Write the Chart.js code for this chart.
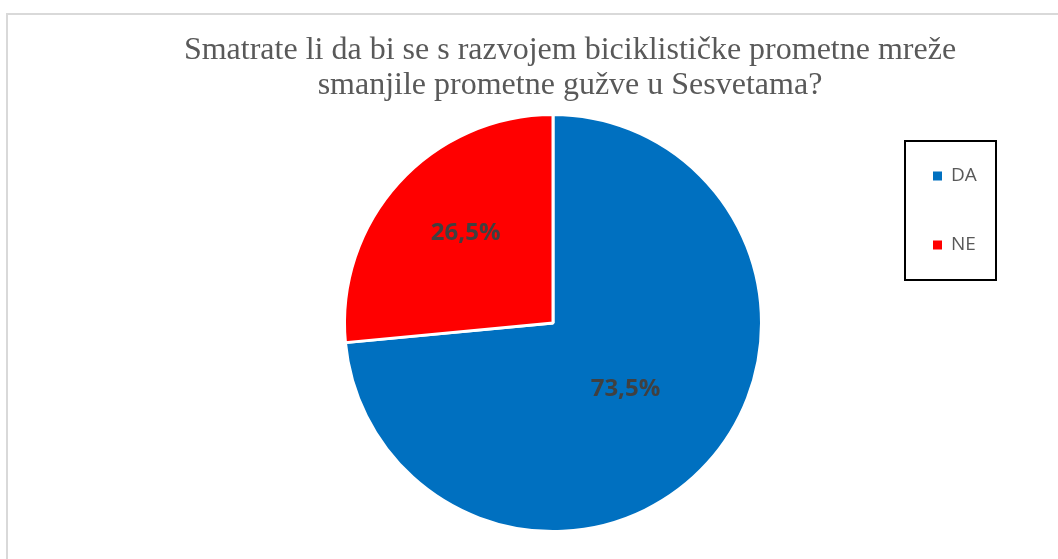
<!DOCTYPE html>
<html>
<head>
<meta charset="utf-8">
<script src="https://cdn.jsdelivr.net/npm/chart.js@4"></script>
<style>
  html, body { margin: 0; padding: 0; background: #fff; }
  #frame {
    position: absolute; left: 6px; top: 13px; width: 1100px; height: 600px;
    border: 2px solid #d9d9d9; box-sizing: border-box;
  }
  #wrap { position: absolute; left: 0; top: 0; width: 1058px; height: 559px; }
</style>
</head>
<body>
<div id="frame"></div>
<div id="wrap"><canvas id="chart" width="1058" height="559"></canvas></div>
<script>
const titleLines = [
  "Smatrate li da bi se s razvojem biciklističke prometne mreže",
  "smanjile prometne gužve u Sesvetama?"
]
const categories = ["DA", "NE"]
const shares = [73.5, 26.5]
const colors = ["#0070c0", "#ff0000"]
const labelFactor = [0.47, 0.6]

const fmt = (v) => v.toFixed(1).replace(".", ",") + "%"

const titlePlugin = {
  id: "titleLines",
  afterDraw(chart) {
    const ctx = chart.ctx
    ctx.save()
    ctx.fillStyle = "#595959"
    ctx.font = "32px 'Liberation Serif'"
    ctx.textAlign = "center"
    ctx.textBaseline = "alphabetic"
    titleLines.forEach((line, i) => ctx.fillText(line, 570, 59 + i * 35))
    ctx.restore()
  }
}

const sliceLabels = {
  id: "sliceLabels",
  afterDatasetsDraw(chart) {
    const ctx = chart.ctx
    const meta = chart.getDatasetMeta(0)
    ctx.save()
    ctx.fillStyle = "#404040"
    ctx.font = "bold 24px 'Open Sans'"
    ctx.textAlign = "center"
    ctx.textBaseline = "middle"
    meta.data.forEach((arc, i) => {
      const { x, y, startAngle, endAngle, outerRadius } = arc.getProps(["x", "y", "startAngle", "endAngle", "outerRadius"], true)
      // nudge the small slice label a bit towards the top, like Excel's best fit
      const mid = (startAngle + endAngle) / 2 + (i === 1 ? 0.06 : 0)
      const r = outerRadius * labelFactor[i]
      ctx.fillText(fmt(shares[i]), x + Math.cos(mid) * r, y + Math.sin(mid) * r)
    })
    ctx.restore()
  }
}

const boxLegend = {
  id: "boxLegend",
  afterDraw(chart) {
    const ctx = chart.ctx
    ctx.save()
    ctx.strokeStyle = "#000"
    ctx.lineWidth = 2
    ctx.strokeRect(905, 141, 91, 139)
    ctx.font = "19px 'Open Sans'"
    ctx.textBaseline = "middle"
    categories.forEach((c, i) => {
      const cy = 176 + i * 69
      ctx.fillStyle = colors[i]
      ctx.fillRect(933, cy - 4.5, 9, 9)
      ctx.fillStyle = "#595959"
      ctx.fillText(c, 951, cy)
    })
    ctx.restore()
  }
}

new Chart(document.getElementById("chart"), {
  type: "pie",
  data: {
    labels: categories,
    datasets: [{
      data: shares,
      backgroundColor: colors,
      borderColor: "#fff",
      borderWidth: 3
    }]
  },
  options: {
    responsive: false,
    animation: false,
    layout: { padding: { left: 343, right: 295, top: 113, bottom: 26 } },
    plugins: {
      legend: { display: false },
      title: { display: false },
      tooltip: { enabled: false }
    }
  },
  plugins: [titlePlugin, sliceLabels, boxLegend]
})
</script>
</body>
</html>
